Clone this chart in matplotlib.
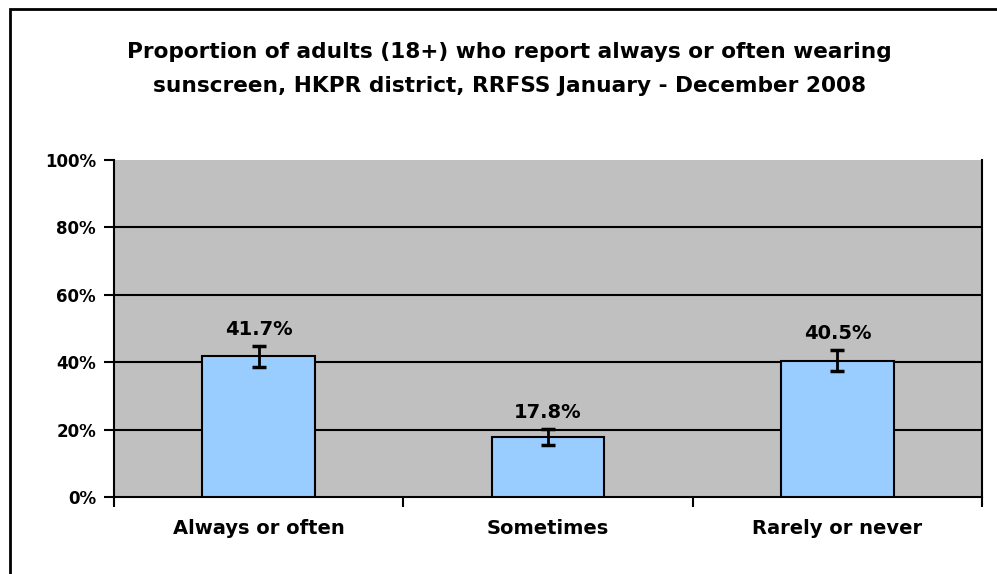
import numpy as np
import matplotlib.pyplot as plt
from matplotlib.patches import Rectangle

plt.rcParams['font.family'] = ['DejaVu Sans']

# Survey results (percent of adults)
categories = ["Always or often", "Sometimes", "Rarely or never"]
values = [41.7, 17.8, 40.5]
errors = [3.1, 2.3, 3.2]
yticks = [0, 20, 40, 60, 80, 100]

fig = plt.figure(figsize=(9.97, 5.74), dpi=100)
ax = fig.add_axes([114/997, 1 - 497/574, (982 - 114)/997, (497 - 160)/574])
ax.set_facecolor("#C0C0C0")

x = np.arange(len(categories))
ax.bar(x, values, width=0.39, color="#99CCFF", edgecolor="black", linewidth=1.5, zorder=3)
ax.errorbar(x, values, yerr=errors, fmt="none", ecolor="black", elinewidth=2,
            capsize=5, capthick=2.5, zorder=4)

for xi, v, e in zip(x, values, errors):
    ax.annotate(f"{v:.1f}%", (xi, v + e), xytext=(0, 5), textcoords="offset points",
                ha="center", va="bottom", fontsize=14, fontweight="bold", zorder=5)

ax.set_xlim(-0.5, len(categories) - 0.5)
ax.set_ylim(0, 100)
ax.set_yticks(yticks)
ax.set_yticklabels([f"{t}%" for t in yticks], fontsize=12, fontweight="bold")
for t in yticks[1:-1]:
    ax.axhline(t, color="black", linewidth=1.5, zorder=1)

# category labels centred, ticks between categories
ax.set_xticks(x)
ax.set_xticklabels(categories, fontsize=14, fontweight="bold")
ax.tick_params(axis="x", length=0, pad=16)
ax.set_xticks(np.arange(-0.5, len(categories)), minor=True)
ax.tick_params(axis="x", which="minor", length=7, width=1.5, direction="out")
ax.tick_params(axis="y", length=7, width=1.5, direction="out", pad=6)

ax.spines["top"].set_visible(False)
for s in ["left", "right", "bottom"]:
    ax.spines[s].set_linewidth(1.5)

fig.text(0.511, 1 - 69/574,
         "Proportion of adults (18+) who report always or often wearing\n"
         "sunscreen, HKPR district, RRFSS January - December 2008",
         ha="center", va="center", fontsize=15.6, fontweight="bold", linespacing=1.88)

# outer chart frame (cut off at right and bottom)
fig.patches.append(Rectangle((10/997, -0.1), 1.2, 1.1 - 9/574, transform=fig.transFigure,
                             fill=False, edgecolor="black", linewidth=2))

fig.savefig("out.png", dpi=100)
